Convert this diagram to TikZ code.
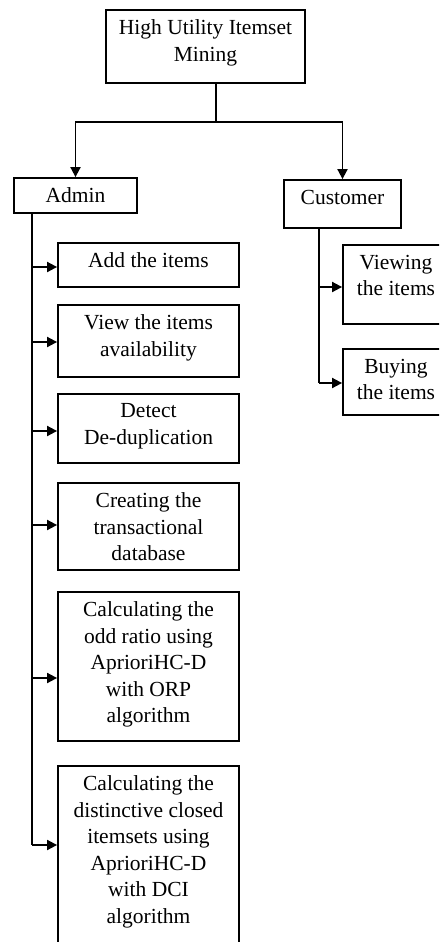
\documentclass[tikz,border=0pt]{standalone}
\usepackage{fontspec}
\setmainfont{Liberation Serif}
\usetikzlibrary{arrows.meta}
\tikzset{
  box/.style = {draw = black, line width = 1.8pt, inner sep = 0pt},
  txt/.style = {anchor = north, align = center, inner sep = 0pt, yshift = -10.5pt, font = \fontsize{21.5}{26.5}\selectfont},
  arr/.style = {line width = 1.8pt, -{Triangle[length = 10pt, width = 10pt]}},
  wire/.style = {line width = 1.8pt}
}
\begin{document}
\begin{tikzpicture}[x = 1pt, y = -1pt]
\useasboundingbox (0,0) rectangle (439,942);
\clip (0,0) rectangle (439,942);
\node[box, minimum width = 199pt, minimum height = 73pt, label = {[txt]north:{High Utility Itemset\\Mining}}] (hui) at (205.5,46.5) {};
\node[box, minimum width = 123pt, minimum height = 35pt, label = {[txt]north:{Admin}}] (admin) at (75.5,195.5) {};
\node[box, minimum width = 117pt, minimum height = 48pt, label = {[txt]north:{Customer}}] (cust) at (342.5,204) {};
\node[box, minimum width = 181pt, minimum height = 44pt, label = {[txt]north:{Add the items}}] (add) at (148.5,265) {};
\node[box, minimum width = 181pt, minimum height = 72pt, label = {[txt]north:{View the items\\availability}}] (view) at (148.5,341) {};
\node[box, minimum width = 181pt, minimum height = 69pt, label = {[txt]north:{Detect\\De-duplication}}] (detect) at (148.5,428.5) {};
\node[box, minimum width = 181pt, minimum height = 87pt, label = {[txt]north:{Creating the\\transactional\\database}}] (create) at (148.5,526.5) {};
\node[box, minimum width = 181pt, minimum height = 149pt, label = {[txt]north:{Calculating the\\odd ratio using\\AprioriHC-D\\with ORP\\algorithm}}] (orp) at (148.5,666.5) {};
\node[box, minimum width = 181pt, minimum height = 190pt, label = {[txt]north:{Calculating the\\distinctive closed\\itemsets using\\AprioriHC-D\\with DCI\\algorithm}}] (dci) at (148.5,861) {};
\node[box, minimum width = 106pt, minimum height = 79pt, label = {[txt]north:{Viewing\\the items}}] (viewing) at (396,284.5) {};
\node[box, minimum width = 106pt, minimum height = 66pt, label = {[txt]north:{Buying\\the items}}] (buying) at (396,382) {};
\coordinate (split) at (216,122);
\draw[wire] (hui.south -| split) -- (split);
\draw[arr] (split) -| (admin.north);
\draw[arr] (split) -| (cust.north);
\coordinate (abus) at (32,0);
\draw[wire] (admin.south -| abus) -- (abus |- 0,845);
\foreach \b/\y in {add/267, view/342, detect/431, create/525, orp/678, dci/845}
  \draw[arr] (abus |- 0,\y) -- (\b.west |- 0,\y);
\coordinate (cbus) at (319,0);
\draw[wire] (cust.south -| cbus) -- (cbus |- 0,383);
\foreach \b/\y in {viewing/287, buying/383}
  \draw[arr] (cbus |- 0,\y) -- (\b.west |- 0,\y);
\end{tikzpicture}
\end{document}
